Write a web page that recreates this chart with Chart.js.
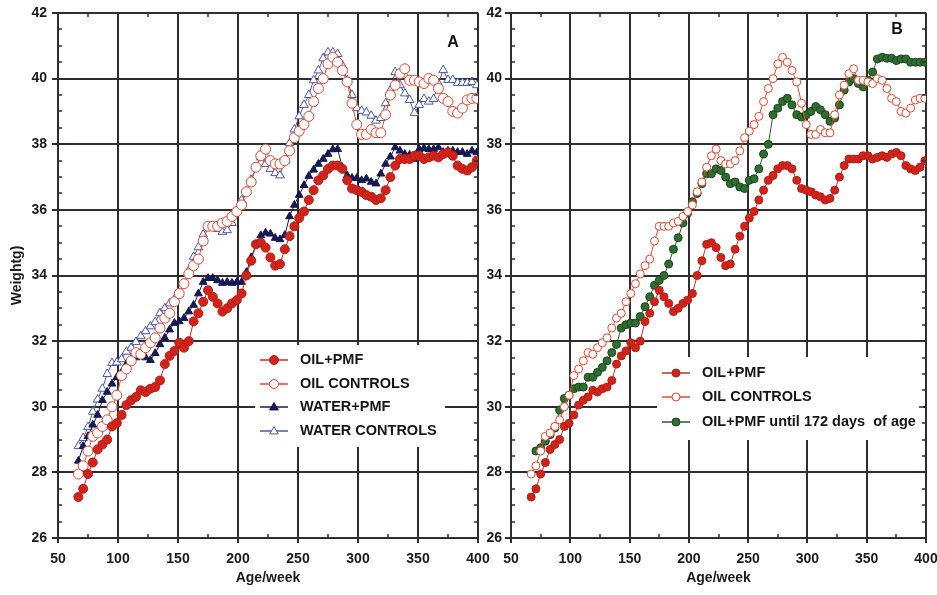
<!DOCTYPE html>
<html>
<head>
<meta charset="utf-8">
<script src="https://cdn.jsdelivr.net/npm/chart.js@4.4.1/dist/chart.umd.min.js"></script>
<style>
html, body { margin: 0; padding: 0; background: #fff; }
body { width: 937px; height: 595px; position: relative; overflow: hidden; }
#chartA { position: absolute; left: 0; top: 0; }
#chartB { position: absolute; left: 478px; top: 0; }
</style>
</head>
<body>
<canvas id="chartA" width="495" height="595"></canvas>
<canvas id="chartB" width="459" height="595"></canvas>
<script>
// age (weeks) of each weighing
const ages = [
  67, 71, 75, 79, 83, 87, 91, 95, 99, 103,
  107, 111, 115, 119, 123, 127, 131, 135, 139, 143,
  147, 151, 155, 159, 163, 167, 171, 175, 179, 183,
  187, 191, 195, 199, 203, 207, 211, 215, 219, 223,
  227, 231, 235, 239, 243, 247, 251, 255, 259, 263,
  267, 271, 275, 279, 283, 287, 291, 295, 299, 303,
  307, 311, 315, 319, 323, 327, 331, 335, 339, 343,
  347, 351, 355, 359, 363, 367, 371, 375, 379, 383,
  387, 391, 395, 399
];

const oilPmf = [
  27.25, 27.5, 27.95, 28.3, 28.7, 28.85, 29.0, 29.4, 29.5, 29.75,
  30.05, 30.2, 30.3, 30.5, 30.45, 30.55, 30.6, 30.8, 31.3, 31.55,
  31.7, 31.95, 31.8, 32.0, 32.6, 32.85, 33.2, 33.55, 33.35, 33.15,
  32.9, 33.0, 33.15, 33.25, 33.45, 34.0, 34.45, 34.95, 35.0, 34.85,
  34.55, 34.3, 34.35, 34.8, 35.2, 35.5, 35.75, 35.95, 36.3, 36.6,
  36.9, 37.05, 37.25, 37.35, 37.35, 37.25, 36.9, 36.65, 36.6, 36.55,
  36.45, 36.4, 36.3, 36.35, 36.6, 37.0, 37.35, 37.55, 37.55, 37.55,
  37.65, 37.65, 37.55, 37.6, 37.65, 37.6, 37.7, 37.75, 37.65, 37.35,
  37.25, 37.2, 37.3, 37.5
];

const oilControls = [
  27.95, 28.2, 28.65, 29.1, 29.2, 29.4, 29.6, 30.0, 30.35, 30.95,
  31.15, 31.4, 31.65, 31.6, 31.8, 31.95, 32.1, 32.4, 32.7, 32.85,
  33.2, 33.45, 33.75, 34.05, 34.3, 34.5, 35.05, 35.5, 35.5, 35.5,
  35.6, 35.65, 35.8, 35.95, 36.15, 36.55, 36.85, 37.3, 37.65, 37.85,
  37.5, 37.4, 37.4, 37.5, 37.8, 38.2, 38.4, 38.6, 38.85, 39.3,
  39.7, 40.0, 40.45, 40.65, 40.5, 40.25, 39.9, 39.25, 38.6, 38.3,
  38.3, 38.45, 38.35, 38.35, 38.9, 39.5, 39.8, 40.15, 40.3, 39.95,
  39.95, 39.9, 39.85, 40.0, 39.95, 39.7, 39.4, 39.3, 39.0, 38.95,
  39.1, 39.35, 39.4, 39.4
];

const waterPmf = [
  28.35, 28.8, 29.1, 29.45, 29.75, 30.2, 30.45, 30.7, 30.9, 31.05,
  31.3, 31.45, 31.5, 31.6, 31.5, 31.42, 31.63, 31.9, 32.1, 32.35,
  32.55, 32.6, 32.7, 32.9, 33.1, 33.45, 33.8, 33.92, 33.92, 33.85,
  33.77, 33.8, 33.77, 33.8, 33.8, 34.1, 34.55, 34.95, 35.22, 35.3,
  35.27, 35.14, 35.1, 35.23, 35.8, 36.15, 36.45, 36.75, 37.03, 37.22,
  37.4, 37.55, 37.7, 37.84, 37.85, 37.3, 37.05, 36.97, 36.97, 36.9,
  36.95, 36.85, 36.8, 37.1, 37.4, 37.62, 37.9, 37.8, 37.7, 37.67,
  37.55, 37.85, 37.88, 37.85, 37.85, 37.9, 37.76, 37.8, 37.8, 37.76,
  37.76, 37.7, 37.8, 37.75
];

const waterControls = [
  28.8, 29.05, 29.38, 29.85, 30.22, 30.55, 31.0, 31.33, 31.35, 31.45,
  31.68, 31.8, 31.97, 32.15, 32.3, 32.45, 32.58, 32.85, 33.0, 33.15,
  33.28, 33.43, 33.75, 34.15, 34.57, 34.86, 35.25, 35.5, 35.5, 35.42,
  35.33, 35.38, 35.6, 35.95, 36.3, 36.57, 36.92, 37.3, 37.6, 37.4,
  37.25, 37.12, 37.05, 37.5, 38.03, 38.45, 38.85, 39.2, 39.5, 39.95,
  40.25, 40.62, 40.8, 40.8, 40.75, 40.4, 39.95, 39.5, 39.1, 39.02,
  38.97, 38.87, 38.72, 38.8, 39.25, 39.65, 40.2, 39.8, 39.55, 39.35,
  38.95, 39.2, 39.38, 39.3, 39.38, 39.85, 40.26, 39.96, 39.96, 39.87,
  39.87, 39.87, 39.9, 39.8
];

const oilPmfUntil172 = [
  null, 28.65, 28.75, 28.95, 29.15, 29.35, 29.9, 30.25, 30.35, 30.55,
  30.6, 30.6, 30.9, 30.9, 31.05, 31.2, 31.4, 31.65, 31.9, 32.4,
  32.5, 32.55, 32.55, 32.75, 33.05, 33.35, 33.7, 33.85, 34.0, 34.35,
  34.8, 35.15, 35.6, 35.9, 36.25, 36.5, 36.8, 37.1, 37.1, 37.25,
  37.2, 37.0, 36.8, 36.85, 36.7, 36.65, 36.9, 36.95, 37.25, 37.7,
  38.0, 38.9, 39.1, 39.3, 39.4, 39.2, 38.9, 38.83, 38.9, 39.0,
  39.15, 39.05, 38.9, 38.7, 38.8, 39.2, 39.65, 39.9, 40.0, 39.85,
  39.75, 39.95, 40.2, 40.6, 40.65, 40.62, 40.62, 40.55, 40.6, 40.6,
  40.5, 40.5, 40.5, 40.5
];

const xRange = [50, 400];
const xStep = 50;
const yRange = [26, 42];
const yStep = 2;

const FONT = '"Liberation Sans", Arial, sans-serif';
const GRID = '#2e2e2e';

function pts(vals) {
  return ages.map((a, i) => ({ x: a, y: vals[i] }));
}

function series(label, vals, st, r) {
  return {
    label: label,
    data: pts(vals),
    borderColor: st.line,
    borderWidth: 1,
    pointStyle: st.shape,
    pointRadius: r,
    pointHoverRadius: r,
    pointBackgroundColor: st.fill,
    pointBorderColor: st.edge,
    pointBorderWidth: 1,
    spanGaps: true,
    tension: 0
  };
}

const redFilled = { line: '#cf2a20', fill: '#d0241b', edge: '#b81c14', shape: 'circle' };
const redOpen = { line: '#e8482e', fill: '#ffffff', edge: '#e8442a', shape: 'circle' };
const navyFilled = { line: '#161b5e', fill: '#151a5c', edge: '#10144a', shape: 'triangle' };
const navyOpen = { line: '#4a58a6', fill: '#ffffff', edge: '#4656a8', shape: 'triangle' };
const greenFilled = { line: '#285f2a', fill: '#2f6e31', edge: '#1b441d', shape: 'circle' };

function drawMarker(ctx, ds, x, y, r) {
  ctx.beginPath();
  if (ds.pointStyle === 'triangle') {
    ctx.moveTo(x, y - r);
    ctx.lineTo(x + r * 0.95, y + r * 0.65);
    ctx.lineTo(x - r * 0.95, y + r * 0.65);
    ctx.closePath();
  } else {
    ctx.arc(x, y, r, 0, Math.PI * 2);
  }
  ctx.fillStyle = ds.pointBackgroundColor;
  ctx.fill();
  ctx.lineWidth = 1;
  ctx.strokeStyle = ds.pointBorderColor;
  ctx.stroke();
}

// white legend box inside the plot, covering the grid
const boxLegend = {
  id: 'boxLegend',
  beforeDatasetsDraw(chart, args, o) {
    const ctx = chart.ctx;
    ctx.save();
    ctx.fillStyle = '#fff';
    ctx.fillRect(o.box[0], o.box[1], o.box[2] - o.box[0], o.box[3] - o.box[1]);
    chart.data.datasets.forEach((ds, i) => {
      const yy = o.rows[i];
      ctx.strokeStyle = ds.borderColor;
      ctx.lineWidth = 1.5;
      ctx.beginPath();
      ctx.moveTo(o.lineX[0], yy);
      ctx.lineTo(o.lineX[1], yy);
      ctx.stroke();
      drawMarker(ctx, ds, (o.lineX[0] + o.lineX[1]) / 2, yy, o.r);
      ctx.fillStyle = '#151515';
      ctx.font = 'bold 14.5px ' + FONT;
      ctx.textBaseline = 'middle';
      ctx.textAlign = 'left';
      ctx.fillText(ds.label, o.textX, yy);
    });
    ctx.restore();
  }
};

// minor ticks on all four sides plus panel letter
const frameTicks = {
  id: 'frameTicks',
  afterDraw(chart, args, o) {
    const { ctx, chartArea: a, scales: { x, y } } = chart;
    ctx.save();
    ctx.strokeStyle = GRID;
    ctx.lineWidth = 1.5;
    ctx.beginPath();
    for (let v = y.min; v <= y.max; v += 0.5) {
      const py = Math.round(y.getPixelForValue(v));
      const len = (v % yStep === 0) ? 7 : 4;
      ctx.moveTo(a.left, py); ctx.lineTo(a.left + len, py);
      ctx.moveTo(a.right, py); ctx.lineTo(a.right - len, py);
    }
    for (let v = x.min + xStep / 2; v < x.max; v += xStep) {
      const px = Math.round(x.getPixelForValue(v));
      ctx.moveTo(px, a.bottom); ctx.lineTo(px, a.bottom - 4);
      ctx.moveTo(px, a.top); ctx.lineTo(px, a.top + 4);
    }
    ctx.stroke();
    ctx.fillStyle = '#111';
    ctx.font = 'bold 16px ' + FONT;
    ctx.textAlign = 'center';
    ctx.textBaseline = 'middle';
    ctx.fillText(o.letter, o.pos[0], o.pos[1]);
    ctx.restore();
  }
};

function makeChart(id, datasets, cfg) {
  const tickFont = { family: FONT, size: 14, weight: 'bold' };
  return new Chart(document.getElementById(id), {
    type: 'line',
    data: { datasets: datasets },
    options: {
      responsive: false,
      animation: false,
      events: [],
      layout: { padding: { left: 0, top: 13, right: cfg.padRight, bottom: 0 } },
      scales: {
        x: {
          type: 'linear',
          min: xRange[0], max: xRange[1],
          ticks: { stepSize: xStep, autoSkip: false, maxRotation: 0, padding: 8, color: '#1a1a1a', font: tickFont },
          grid: { color: GRID, lineWidth: 2, tickLength: 5, tickColor: GRID, tickWidth: 2 },
          border: { display: true, color: GRID, width: 2 },
          title: { display: true, text: 'Age/week', color: '#1a1a1a', font: tickFont, padding: { top: 0, bottom: 8 } },
          afterFit(s) { s.height = 57; s.paddingLeft = 0; s.paddingRight = 0; }
        },
        y: {
          min: yRange[0], max: yRange[1],
          ticks: { stepSize: yStep, autoSkip: false, padding: cfg.yPad, color: '#1a1a1a', font: tickFont },
          grid: { color: GRID, lineWidth: 2, tickLength: 6, tickColor: GRID, tickWidth: 2 },
          border: { display: true, color: GRID, width: 2 },
          title: {
            display: !!cfg.yTitle, text: cfg.yTitle || '', color: '#1a1a1a',
            font: { family: FONT, size: 14, weight: 'bold' }, padding: { top: 9, bottom: 0 }
          },
          afterFit(s) { s.width = cfg.yWidth; s.paddingTop = 0; s.paddingBottom = 0; }
        }
      },
      plugins: {
        legend: { display: false },
        tooltip: { enabled: false },
        boxLegend: cfg.legend,
        frameTicks: cfg.frame
      }
    },
    plugins: [boxLegend, frameTicks]
  });
}

makeChart('chartA', [
  series('OIL+PMF', oilPmf, redFilled, 4.5),
  series('OIL CONTROLS', oilControls, redOpen, 5),
  series('WATER+PMF', waterPmf, navyFilled, 4.5),
  series('WATER CONTROLS', waterControls, navyOpen, 5)
], {
  padRight: 17, yWidth: 58, yPad: 5, yTitle: 'Weightg)',
  legend: { box: [255, 345, 445, 447], rows: [360, 384, 407, 431], lineX: [260, 288], textX: 300, r: 4.5 },
  frame: { letter: 'A', pos: [453, 43] }
});

makeChart('chartB', [
  series('OIL+PMF', oilPmf, redFilled, 4),
  series('OIL CONTROLS', oilControls, redOpen, 4),
  series('OIL+PMF until 172 days  of age', oilPmfUntil172, greenFilled, 4)
], {
  padRight: 11, yWidth: 33, yPad: 3,
  legend: { box: [179, 357, 445, 440], rows: [373, 397, 422], lineX: [184, 212], textX: 224, r: 4 },
  frame: { letter: 'B', pos: [419, 30] }
});
</script>
</body>
</html>
